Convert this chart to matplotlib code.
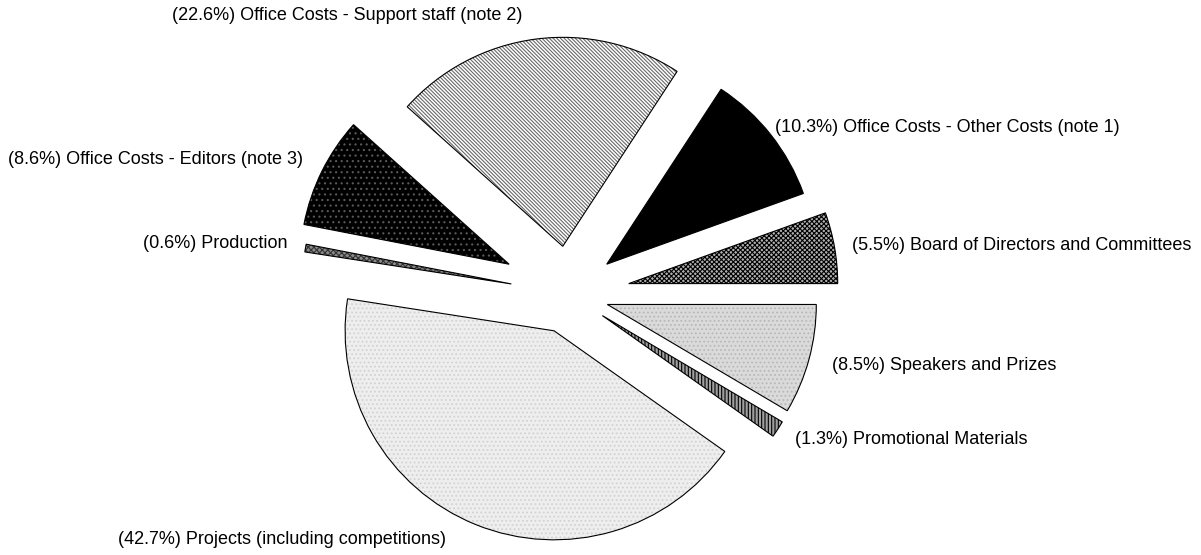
import matplotlib
matplotlib.use("Agg")
import matplotlib.pyplot as plt

plt.rcParams['font.family'] = ['Liberation Sans', 'DejaVu Sans']

categories = [
    "Board of Directors and Committees",
    "Office Costs - Other Costs (note 1)",
    "Office Costs - Support staff (note 2)",
    "Office Costs - Editors (note 3)",
    "Production",
    "Projects (including competitions)",
    "Promotional Materials",
    "Speakers and Prizes",
]
shares = [5.5, 10.3, 22.6, 8.6, 0.6, 42.7, 1.3, 8.5]

explode_frac = [0.29, 0.23, 0.23, 0.32, 0.28, 0.19, 0.19, 0.19]
faces = ['#b0b0b0', '#000000', '#ffffff', '#000000', '#8a8a8a', '#eeeeee', '#a0a0a0', '#dadada']
hatch_cols = ['#000000', '#000000', '#6a6a6a', '#5a5a5a', '#333333', '#d2d2d2', '#000000', '#b8b8b8']
hatches = ['xxxxxxx', None, '\\' * 9, '...', 'xxxxxx', '....', '|||||', '....']
label_pos = [(852, 245), (775, 127), (172, 15), (8, 160), (143, 244), (118, 540), (795, 440), (832, 366)]

W, H = 1201, 555
fig = plt.figure(figsize=(W / 100, H / 100), dpi=100)
ax = fig.add_axes([0, 0, 1, 1])
ax.set_xlim(0, W)
ax.set_ylim(0, H)
ax.set_aspect('equal')
ax.axis('off')

plt.rcParams['hatch.linewidth'] = 0.8
cx, cy, r = 569, H - 294, 209
explode = [e * r for e in explode_frac]

# fills with hatch (hatch colour comes from edge colour)
wedges, _ = ax.pie(shares, explode=explode, center=(cx, cy), radius=r,
                   startangle=0, counterclock=True, normalize=True,
                   wedgeprops=dict(linewidth=0))
for w, fc, hc, h in zip(wedges, faces, hatch_cols, hatches):
    w.set_facecolor(fc)
    w.set_edgecolor(hc)
    w.set_linewidth(0)
    if h:
        w.set_hatch(h)

# outlines
outl, _ = ax.pie(shares, explode=explode, center=(cx, cy), radius=r,
                 startangle=0, counterclock=True, normalize=True,
                 wedgeprops=dict(fill=False, edgecolor='black', linewidth=0.8))

for name, v, (lx, ly) in zip(categories, shares, label_pos):
    ax.text(lx, H - ly, f"({v:.1f}%) {name}", ha='left', va='center',
            fontsize=13, color='black')

ax.set_xlim(0, W)
ax.set_ylim(0, H)
fig.savefig("out.png", dpi=100)
